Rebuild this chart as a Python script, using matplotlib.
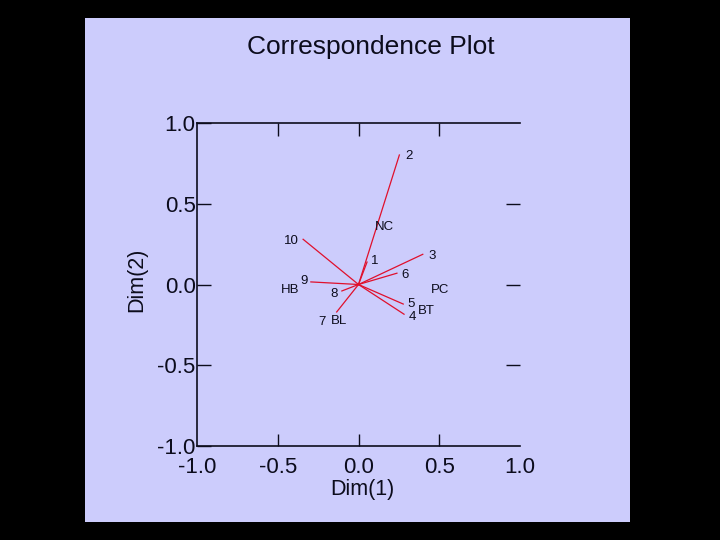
import matplotlib
matplotlib.use('Agg')
import matplotlib.pyplot as plt
from matplotlib.patches import Rectangle

plt.rcParams['font.family'] = ['Liberation Sans', 'DejaVu Sans']

# row points (drawn as vectors from the origin)
row_labels = ['1', '2', '3', '4', '5', '6', '7', '8', '9', '10']
row_x = [0.053, 0.253, 0.398, 0.282, 0.277, 0.238, -0.135, -0.103, -0.295, -0.343]
row_y = [0.139, 0.802, 0.187, -0.184, -0.121, 0.070, -0.170, -0.040, 0.016, 0.280]

# column points (labels only)
col_labels = ['NC', 'PC', 'BT', 'BL', 'HB']
col_x = [0.158, 0.505, 0.418, -0.121, -0.423]
col_y = [0.356, -0.034, -0.164, -0.226, -0.034]

ticks = [-1.0, -0.5, 0.0, 0.5, 1.0]
tick_labels = ['-1.0', '-0.5', '0.0', '0.5', '1.0']
inner_ticks = [-0.5, 0.0, 0.5]

panel = '#ccccfc'
ink = '#0c0c1c'
red = '#e0102c'

fig = plt.figure(figsize=(7.2, 5.4), dpi=100)
fig.patch.set_facecolor('black')
fig.patches.append(Rectangle((85 / 720, 1 - 522 / 540), 545 / 720, 504 / 540,
                             transform=fig.transFigure, facecolor=panel,
                             edgecolor='none', zorder=-5))

ax = fig.add_axes([197 / 720, 1 - 446 / 540, 323 / 720, 323 / 540])
ax.set_zorder(3)
ax.set_facecolor('none')
ax.set_xlim(-1, 1)
ax.set_ylim(-1, 1)
ax.spines['right'].set_visible(False)
for s in ['left', 'top', 'bottom']:
    ax.spines[s].set_color(ink)
    ax.spines[s].set_linewidth(1.2)

# keep minor ticks even where they sit on a major one
ax.xaxis.remove_overlapping_locs = False
ax.yaxis.remove_overlapping_locs = False

ax.set_xticks(ticks)
ax.set_xticklabels(tick_labels)
ax.set_xticks(inner_ticks, minor=True)
ax.tick_params(axis='x', which='major', length=0, pad=8, labelsize=16, labelcolor=ink)
ax.tick_params(axis='x', which='minor', bottom=True, top=True, direction='in',
               length=9, width=1, color=ink)
ax.set_yticks(ticks)
ax.set_yticklabels(tick_labels)
ax.set_yticks(inner_ticks, minor=True)
ax.tick_params(axis='y', which='major', left=True, direction='in', length=10,
               width=1, pad=1, labelsize=16, labelcolor=ink, color=ink)
ax.tick_params(axis='y', which='minor', left=False, right=True, direction='in',
               length=10, width=1, color=ink)

for x, y in zip(row_x, row_y):
    ax.plot([0, x], [0, y], color=red, linewidth=0.9)

# label offsets in points (dx, dy, ha)
offsets = {
    '1': (3, 1, 'left'), '2': (4, -1, 'left'), '3': (4, -1, 'left'),
    '4': (3, -2, 'left'), '5': (3, 0, 'left'), '6': (3, -1, 'left'),
    '7': (-8, -7, 'right'), '8': (-3, -2, 'right'), '9': (-5, 1, 'center'),
    '10': (-3, -1, 'right'),
}
for lab, x, y in zip(row_labels, row_x, row_y):
    dx, dy, ha = offsets[lab]
    ax.annotate(lab, (x, y), xytext=(dx, dy), textcoords='offset points',
                ha=ha, va='center', fontsize=9.5, color=ink)

for lab, x, y in zip(col_labels, col_x, col_y):
    ax.text(x, y, lab, ha='center', va='center', fontsize=9.5, color=ink)

fig.text(371 / 720, 1 - 47 / 540, 'Correspondence Plot', ha='center', va='center',
         fontsize=19, color=ink)
fig.text(362 / 720, 1 - 489 / 540, 'Dim(1)', ha='center', va='center',
         fontsize=15.5, color=ink)
fig.text(137 / 720, 1 - 280 / 540, 'Dim(2)', ha='center', va='center',
         fontsize=15.5, color=ink, rotation=90)

fig.savefig('out.png', dpi=100, facecolor=fig.get_facecolor())
